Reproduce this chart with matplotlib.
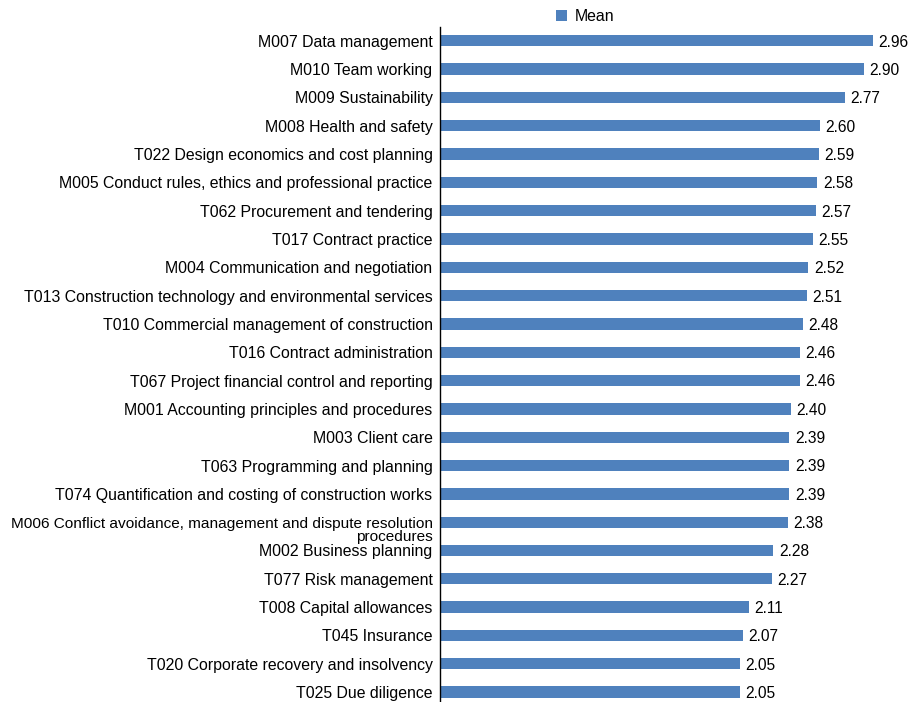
import matplotlib
matplotlib.use('Agg')
import matplotlib.pyplot as plt
import matplotlib.transforms as mtransforms

plt.rcParams['font.family'] = ['Liberation Sans', 'DejaVu Sans']

# competencies, top to bottom
labels = [
    "M007 Data management",
    "M010 Team working",
    "M009 Sustainability",
    "M008 Health and safety",
    "T022 Design economics and cost planning",
    "M005 Conduct rules, ethics and professional practice",
    "T062 Procurement and tendering",
    "T017 Contract practice",
    "M004 Communication and negotiation",
    "T013 Construction technology and environmental services",
    "T010 Commercial management of construction",
    "T016 Contract administration",
    "T067 Project financial control and reporting",
    "M001 Accounting principles and procedures",
    "M003 Client care",
    "T063 Programming and planning",
    "T074 Quantification and costing of construction works",
    "M006 Conflict avoidance, management and dispute resolution\nprocedures",
    "M002 Business planning",
    "T077 Risk management",
    "T008 Capital allowances",
    "T045 Insurance",
    "T020 Corporate recovery and insolvency",
    "T025 Due diligence",
]
means = [2.96, 2.90, 2.77, 2.60, 2.59, 2.58, 2.57, 2.55, 2.52, 2.51, 2.48, 2.46,
         2.46, 2.40, 2.39, 2.39, 2.39, 2.38, 2.28, 2.27, 2.11, 2.07, 2.05, 2.05]

bar_color = '#4F81BD'

fig = plt.figure(figsize=(9.17, 7.02), dpi=100)
ax = fig.add_axes([0.48, -0.006, 0.51, 0.968])

ypos = list(range(len(labels)))
ax.barh(ypos, means, height=0.4, color=bar_color, label='Mean')
ax.set_ylim(len(labels) - 0.5, -0.5)
ax.set_xlim(0, 3.2)

for y, v in zip(ypos, means):
    ax.annotate(f"{v:.2f}", (v, y), xytext=(4, -1.0), textcoords='offset points',
                va='center', ha='left', fontsize=11.2)

ax.set_yticks(ypos)
ax.set_yticklabels(labels, fontsize=11.4)
ax.tick_params(axis='y', length=0, pad=5.5)
ax.set_xticks([])

# wrapped label: first line sits on the bar, second line right aligned
for t in ax.get_yticklabels():
    if t.get_text().startswith("M006"):
        t.set_fontsize(11.1)
        t.set_linespacing(0.85)
        t.set_multialignment('right')
        t.set_transform(t.get_transform() + mtransforms.ScaledTranslation(0, -5.5 / 72, fig.dpi_scale_trans))

for s in ['top', 'right', 'bottom']:
    ax.spines[s].set_visible(False)
ax.spines['left'].set_linewidth(1.0)

fig.legend(loc='upper center', bbox_to_anchor=(0.638, 1.008), frameon=False,
           fontsize=11.4, handlelength=0.7, handleheight=0.7, handletextpad=0.5)

fig.savefig('out.png', dpi=100)
